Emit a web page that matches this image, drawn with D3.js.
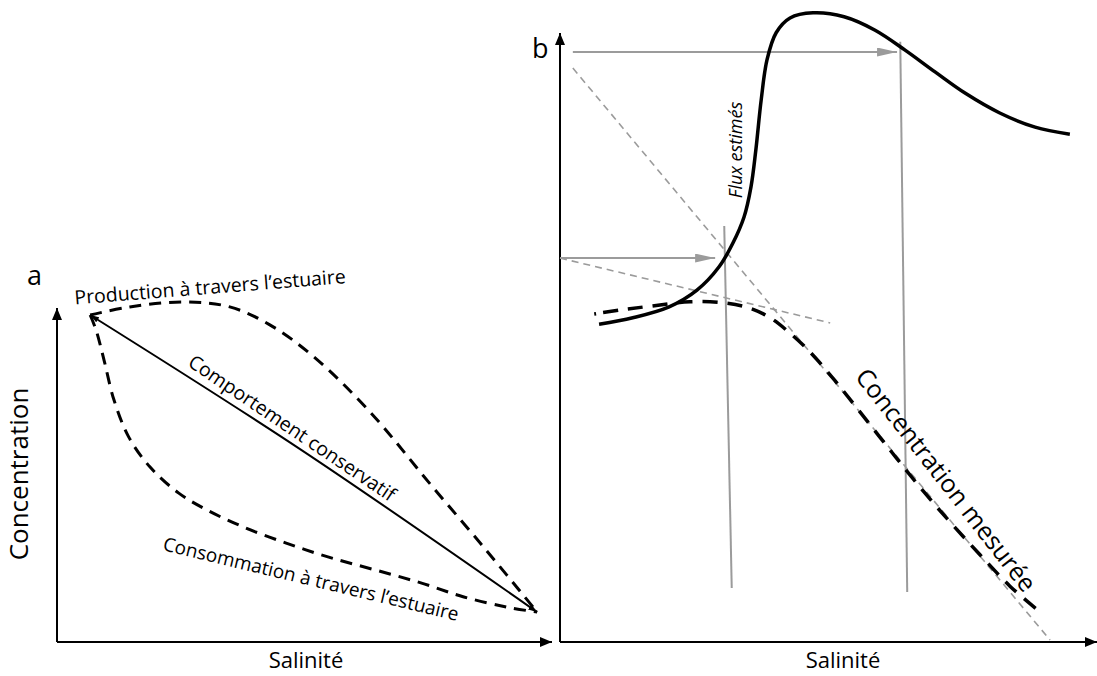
<!DOCTYPE html>
<html>
<head>
<meta charset="utf-8">
<script src="https://cdn.jsdelivr.net/npm/d3@7"></script>
<style>
  html, body { margin: 0; padding: 0; background: #fff; }
  svg { display: block; }
  text { font-family: "Open Sans", "Noto Sans", sans-serif; fill: #000; }
</style>
</head>
<body>
<svg id="chart" width="1097" height="676"></svg>
<script>
// ---------- Panel a : schematic mixing diagram (salinity, concentration) ----------
const conservative = [[6.7, 92.9], [49.1, 54.8], [97.0, 8.5]];
const production = [
  [6.7, 92.9], [14.7, 95.2], [25.9, 96.6], [34.9, 95.2], [43.0, 90.1],
  [51.9, 81.0], [63.4, 65.1], [75.2, 45.2], [86.7, 26.1], [97.0, 8.5]
];
const consumption = [
  [6.7, 92.9], [7.9, 88.6], [9.5, 80.1], [11.5, 68.8], [14.5, 58.2],
  [18.8, 49.7], [24.6, 42.3], [30.3, 37.5], [37.6, 32.7], [46.3, 28.1],
  [54.9, 24.1], [64.2, 20.5], [73.5, 16.8], [82.2, 12.8], [90.9, 9.9], [97.0, 8.5]
];

// ---------- Panel b : estimated flux and measured concentration ----------
const flux = [
  [7.3, 49.5], [13.6, 50.5], [20.4, 52.2], [25.6, 54.8], [29.7, 58.4],
  [32.3, 62.1], [34.4, 66.2], [35.7, 70.9], [36.6, 76.6], [37.6, 84.4],
  [38.7, 90.7], [40.4, 94.9], [43.0, 97.2], [47.3, 98.0], [53.1, 97.4],
  [58.9, 95.3], [64.5, 92.2], [70.1, 88.8], [75.7, 85.5], [82.2, 82.4],
  [88.8, 80.2], [95.3, 79.1]
];
const measured = [
  [6.4, 51.1], [11.2, 51.7], [16.8, 52.3], [24.3, 53.0], [30.8, 52.8],
  [35.5, 52.0], [39.3, 50.5], [43.0, 48.1], [46.7, 45.2], [51.4, 40.7],
  [56.1, 35.8], [61.7, 29.9], [67.3, 24.1], [72.9, 18.7], [78.5, 13.6],
  [84.1, 8.7], [89.7, 4.7]
];
// tangents to the measured curve
const tangentSteep = [[2.4, 89.4], [91.6, 0.3]];
const tangentShallow = [[0.0, 59.8], [50.5, 49.7]];
// reading lines: horizontal arrows towards the flux curve, vertical salinity markers
const readArrowHigh = [[2.4, 91.9], [63.0, 91.9]];
const readArrowLow = [[0.0, 59.8], [29.0, 59.8]];
const readVertHigh = [[63.6, 93.5], [64.9, 7.8]];
const readVertLow = [[30.7, 64.8], [32.1, 8.4]];

const panelLabels = ["a", "b"];
const axisTitleX = "Salinité";
const axisTitleY = "Concentration";
const curveLabelsA = ["Production à travers l’estuaire", "Comportement conservatif", "Consommation à travers l’estuaire"];
const curveLabelsB = ["Flux estimés", "Concentration mesurée"];

const svg = d3.select("#chart");
const grey = "#9b9b9b";

// ---------- markers ----------
const defs = svg.append("defs");
function marker(id, len, wid, color) {
  defs.append("marker")
    .attr("id", id)
    .attr("viewBox", `0 0 ${len} ${wid}`)
    .attr("refX", len).attr("refY", wid / 2)
    .attr("markerWidth", len).attr("markerHeight", wid)
    .attr("markerUnits", "userSpaceOnUse")
    .attr("orient", "auto-start-reverse")
    .append("path")
    .attr("d", `M0,0 L${len},${wid / 2} L0,${wid} Z`)
    .attr("fill", color);
}
marker("axisArrow", 12, 10, "#000");
marker("greyArrow", 20, 9, grey);
marker("smallArrow", 9, 6, "#000");

// ---------- scales ----------
const xA = d3.scaleLinear().domain([0, 100]).range([57, 552]);
const yA = d3.scaleLinear().domain([0, 100]).range([642, 290]);
const xB = d3.scaleLinear().domain([0, 100]).range([560, 1095]);
const yB = d3.scaleLinear().domain([0, 100]).range([642, 0]);

const smoothA = d3.line().x(d => xA(d[0])).y(d => yA(d[1])).curve(d3.curveCatmullRom.alpha(0.5));
const smoothB = d3.line().x(d => xB(d[0])).y(d => yB(d[1])).curve(d3.curveCatmullRom.alpha(0.5));
const straightB = d3.line().x(d => xB(d[0])).y(d => yB(d[1]));

// ---------- panel a ----------
const gA = svg.append("g");
// axes
gA.append("line")
  .attr("x1", xA(0)).attr("y1", yA(0)).attr("x2", xA(0)).attr("y2", 308)
  .attr("stroke", "#000").attr("stroke-width", 2).attr("marker-end", "url(#axisArrow)");
gA.append("line")
  .attr("x1", xA(0)).attr("y1", yA(0)).attr("x2", xA(100)).attr("y2", yA(0))
  .attr("stroke", "#000").attr("stroke-width", 2).attr("marker-end", "url(#axisArrow)");

gA.append("path").attr("d", smoothA(production))
  .attr("fill", "none").attr("stroke", "#000").attr("stroke-width", 3)
  .attr("stroke-dasharray", "12,8");
gA.append("path").attr("d", smoothA(consumption))
  .attr("fill", "none").attr("stroke", "#000").attr("stroke-width", 3)
  .attr("stroke-dasharray", "12,8");
gA.append("path").attr("d", smoothA(conservative))
  .attr("fill", "none").attr("stroke", "#000").attr("stroke-width", 2)
  .attr("marker-start", "url(#smallArrow)").attr("marker-end", "url(#smallArrow)");

gA.append("text").text(panelLabels[0])
  .attr("x", 27).attr("y", 285).attr("font-size", 27);
gA.append("text").text(axisTitleY)
  .attr("transform", "translate(19,474) rotate(-90)")
  .attr("text-anchor", "middle").attr("dy", "0.35em").attr("font-size", 26);
gA.append("text").text(axisTitleX)
  .attr("x", 306).attr("y", 668).attr("text-anchor", "middle").attr("font-size", 22);

gA.append("text").text(curveLabelsA[0])
  .attr("transform", "translate(210,287) rotate(-4.5)")
  .attr("text-anchor", "middle").attr("dy", "0.35em").attr("font-size", 19.5);
gA.append("text").text(curveLabelsA[1])
  .attr("transform", "translate(292,428) rotate(34)")
  .attr("text-anchor", "middle").attr("dy", "0.35em").attr("font-size", 19.5);
gA.append("text").text(curveLabelsA[2])
  .attr("transform", "translate(311,579) rotate(13.5)")
  .attr("text-anchor", "middle").attr("dy", "0.35em").attr("font-size", 19);

// ---------- panel b ----------
const gB = svg.append("g");
gB.append("line")
  .attr("x1", xB(0)).attr("y1", yB(0)).attr("x2", xB(0)).attr("y2", 33)
  .attr("stroke", "#000").attr("stroke-width", 2).attr("marker-end", "url(#axisArrow)");
gB.append("line")
  .attr("x1", xB(0)).attr("y1", yB(0)).attr("x2", 1097).attr("y2", yB(0))
  .attr("stroke", "#000").attr("stroke-width", 2).attr("marker-end", "url(#axisArrow)");

// tangents
[tangentSteep, tangentShallow].forEach(t => {
  gB.append("path").attr("d", straightB(t))
    .attr("fill", "none").attr("stroke", grey).attr("stroke-width", 1.6)
    .attr("stroke-dasharray", "7,5");
});
// reading lines
[readVertHigh, readVertLow].forEach(t => {
  gB.append("path").attr("d", straightB(t))
    .attr("fill", "none").attr("stroke", grey).attr("stroke-width", 2);
});
[readArrowHigh, readArrowLow].forEach(t => {
  gB.append("path").attr("d", straightB(t))
    .attr("fill", "none").attr("stroke", grey).attr("stroke-width", 2)
    .attr("marker-end", "url(#greyArrow)");
});

// measured concentration: a short leading dot, then regular dashes
const dashPattern = ["2,7"].concat(d3.range(40).map(() => "15,10")).join(",");
gB.append("path").attr("d", smoothB(measured))
  .attr("fill", "none").attr("stroke", "#000").attr("stroke-width", 3.5)
  .attr("stroke-dasharray", dashPattern);
gB.append("path").attr("d", smoothB(flux))
  .attr("fill", "none").attr("stroke", "#000").attr("stroke-width", 3.5);

gB.append("text").text(panelLabels[1])
  .attr("x", 532).attr("y", 58).attr("font-size", 27);
gB.append("text").text(axisTitleX)
  .attr("x", 843).attr("y", 668).attr("text-anchor", "middle").attr("font-size", 22);
gB.append("text").text(curveLabelsB[0])
  .attr("transform", "translate(736,150) rotate(-90)")
  .attr("text-anchor", "middle").attr("dy", "0.35em")
  .attr("font-size", 18).attr("font-style", "italic");
gB.append("text").text(curveLabelsB[1])
  .attr("transform", "translate(946,480) rotate(52)")
  .attr("text-anchor", "middle").attr("dy", "0.35em").attr("font-size", 25);
</script>
</body>
</html>
